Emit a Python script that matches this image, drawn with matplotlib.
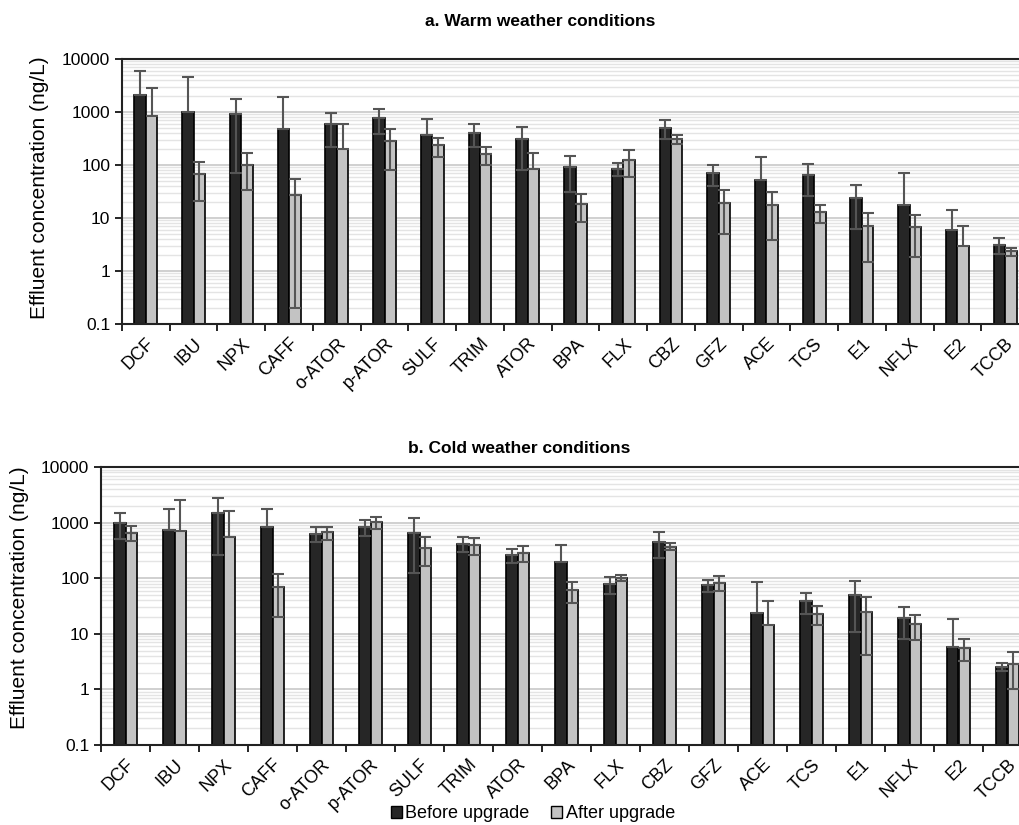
import numpy as np
import matplotlib
matplotlib.use("Agg")
import matplotlib.pyplot as plt
from matplotlib.ticker import FixedLocator, NullFormatter
from matplotlib.patches import Patch

plt.rcParams['font.family'] = ['Liberation Sans', 'DejaVu Sans']

# compounds (x categories)
compounds = ["DCF", "IBU", "NPX", "CAFF", "o-ATOR", "p-ATOR", "SULF", "TRIM", "ATOR",
             "BPA", "FLX", "CBZ", "GFZ", "ACE", "TCS", "E1", "NFLX", "E2", "TCCB"]

# a. warm weather (ng/L) and standard deviations
warm_before = [2090, 990, 905, 480, 595, 770, 373, 402, 305, 91, 84, 506, 70, 52, 66, 24.2, 17.6, 5.9, 3.13]
warm_before_err = [3850, 3650, 835, 1470, 380, 380, 376, 180, 225, 60, 23, 193, 29, 88, 40, 18, 53, 8.1, 1.0]
warm_after = [830, 67, 100, 26.8, 203, 280, 235, 161, 84, 18.4, 124, 310, 19.2, 17.6, 12.8, 7.0, 6.7, 2.9, 2.36]
warm_after_err = [2040, 46, 66, 26.6, 383, 200, 93, 62, 85, 10, 65, 60, 14.2, 13.8, 4.7, 5.5, 4.9, 4.1, 0.4]

# b. cold weather (ng/L) and standard deviations
cold_before = [1000, 736, 1513, 822, 634, 834, 661, 419, 261, 196, 77.6, 448, 75.5, 24.0, 38.9, 49.9, 19.0, 5.7, 2.53]
cold_before_err = [490, 1000, 1250, 913, 190, 260, 535, 122, 72, 200, 26, 220, 18, 63, 16, 39, 11, 12.8, 0.43]
cold_after = [661, 718, 544, 68.7, 670, 1012, 355, 391, 288, 61.4, 101, 370, 83.4, 14.6, 22.7, 25.1, 14.8, 5.65, 2.82]
cold_after_err = [195, 1800, 1075, 49, 180, 250, 190, 130, 92, 25, 13, 52, 24, 25, 8.5, 21, 7, 2.4, 1.8]

y_ticks = [0.1, 1, 10, 100, 1000, 10000]
y_labels = ["0.1", "1", "10", "100", "1000", "10000"]

DARK = "#262626"
LIGHT = "#c3c3c3"
ERR = "#555555"
BAR_W = 0.24


def draw_panel(ax, before, before_err, after, after_err):
    x = np.arange(len(compounds))
    for offset, vals, errs, color in [(-BAR_W / 2, before, before_err, DARK),
                                      (BAR_W / 2, after, after_err, LIGHT)]:
        vals = np.array(vals, dtype=float)
        errs = np.array(errs, dtype=float)
        ax.bar(x + offset, vals, width=BAR_W, color=color, edgecolor="black",
               linewidth=1.2, zorder=2, bottom=0.01)
        # upper whiskers everywhere
        ax.errorbar(x + offset, vals, yerr=[np.zeros_like(errs), errs], fmt="none",
                    ecolor=ERR, elinewidth=1.5, capsize=4, capthick=1.5, zorder=3)
        # lower whiskers only where they stay above zero
        ok = errs < vals
        ax.errorbar((x + offset)[ok], vals[ok], yerr=[errs[ok], np.zeros(ok.sum())],
                    fmt="none", ecolor=ERR, elinewidth=1.5, capsize=4, capthick=1.5, zorder=3)

    ax.set_yscale("log")
    ax.set_ylim(0.1, 10000)
    ax.set_xlim(-0.5, len(compounds) - 0.5)
    ax.yaxis.set_major_locator(FixedLocator(y_ticks))
    ax.set_yticklabels(y_labels, fontsize=12.5)
    ax.yaxis.set_minor_locator(FixedLocator(
        [m * 10.0 ** e for e in range(-1, 4) for m in range(2, 10)]))
    ax.yaxis.set_minor_formatter(NullFormatter())
    ax.tick_params(axis="y", which="minor", length=0)
    ax.tick_params(axis="y", which="major", length=5, width=1.2, direction="out")
    ax.grid(axis="y", which="major", color="#c4c4c4", linewidth=1.1, zorder=0)
    ax.grid(axis="y", which="minor", color="#e4e4e4", linewidth=1.0, zorder=0)
    ax.set_axisbelow(True)

    # category labels at centres, tick marks at boundaries
    ax.set_xticks(x)
    ax.set_xticklabels(compounds, rotation=45, ha="right", rotation_mode="anchor", fontsize=13)
    ax.tick_params(axis="x", which="major", length=0, pad=8)
    ax.set_xticks(np.arange(len(compounds) + 1) - 0.5, minor=True)
    ax.tick_params(axis="x", which="minor", length=5, width=1.2, direction="out")

    for s in ["left", "bottom", "top"]:
        ax.spines[s].set_linewidth(1.5)
        ax.spines[s].set_color("#222222")
    ax.spines["right"].set_visible(False)


fig = plt.figure(figsize=(10.19, 8.25), dpi=100)

ax_a = fig.add_axes([122 / 1019, 1 - 324 / 825, 907 / 1019, 265 / 825])
draw_panel(ax_a, warm_before, warm_before_err, warm_after, warm_after_err)

ax_b = fig.add_axes([101 / 1019, 1 - 745 / 825, 931 / 1019, 278 / 825])
draw_panel(ax_b, cold_before, cold_before_err, cold_after, cold_after_err)

fig.text(540 / 1019, 1 - 22 / 825, "a. Warm weather conditions", ha="center", va="center",
         fontsize=12.5, fontweight="bold")
fig.text(519 / 1019, 1 - 449 / 825, "b. Cold weather conditions", ha="center", va="center",
         fontsize=12.5, fontweight="bold")

fig.text(40 / 1019, 1 - 188 / 825, "Effluent concentration (ng/L)", rotation=90,
         ha="center", va="center", fontsize=15)
fig.text(20 / 1019, 1 - 598 / 825, "Effluent concentration (ng/L)", rotation=90,
         ha="center", va="center", fontsize=15)

handles = [Patch(facecolor=DARK, edgecolor="black", linewidth=1),
           Patch(facecolor=LIGHT, edgecolor="black", linewidth=1)]
fig.legend(handles, ["Before upgrade", "After upgrade"], loc="center",
           bbox_to_anchor=(533 / 1019, 1 - 814 / 825), ncol=2, frameon=False,
           fontsize=13, handlelength=0.6, handleheight=0.6, handletextpad=0.2,
           columnspacing=1.2, borderpad=0)

fig.savefig("out.png", dpi=100)
